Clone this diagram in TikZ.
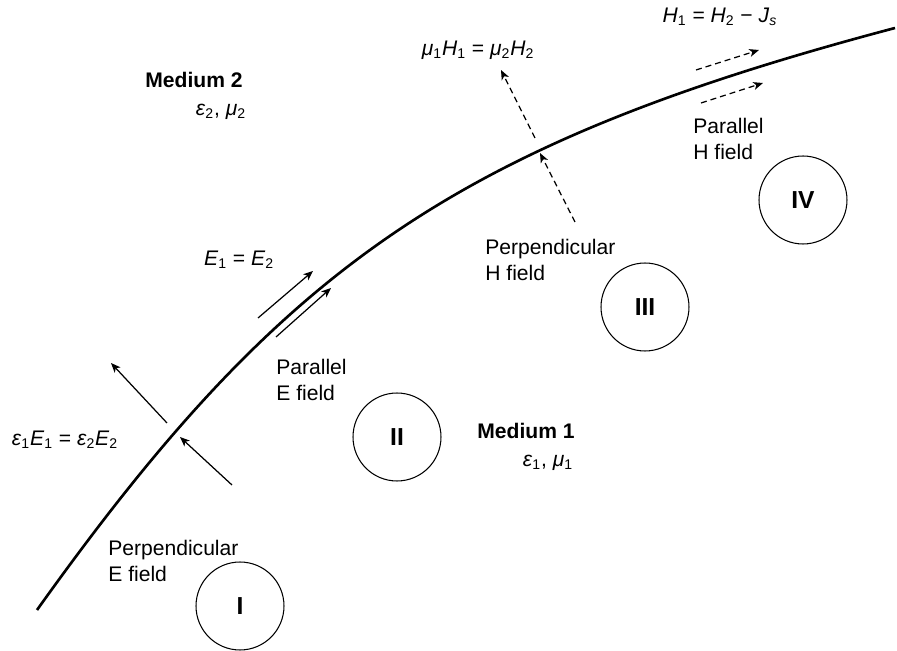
\documentclass[tikz,border=0pt]{standalone}
\usepackage{fontspec}
\setmainfont{Liberation Sans}
\usetikzlibrary{arrows.meta}
\newcommand{\fq}[2]{\textit{#1}\textsubscript{#2}}

\begin{document}
\begin{tikzpicture}[x=0.02cm, y=-0.02cm,
        zone/.style={circle, draw, line width=0.6pt, minimum size=1.76cm, inner sep=0pt, font=\fontsize{14}{16}\selectfont\bfseries},
        note/.style={anchor=west, align=left, inner sep=0pt, font=\fontsize{12}{14.7}\selectfont},
        eq/.style={inner sep=0pt, font=\fontsize{12}{14}\selectfont},
        efield/.style={-{Stealth[length=5.5pt, width=4.5pt, inset=1.5pt]}, line width=0.7pt},
        hfield/.style={efield, dash pattern=on 3.4pt off 2.3pt},
        boundary/.style={line width=1.5pt}
    ]
        \useasboundingbox (0,0) rectangle (897,651);

        % interface between the two media
        \coordinate (bs) at (37,610);
        \coordinate (be) at (895,28);
        \draw[boundary] (bs) .. controls (281,268) and (453,145) .. (be);

        \node[zone] (z1) at (240,606) {I};
        \node[zone] (z2) at (397,437) {II};
        \node[zone] (z3) at (645,307) {III};
        \node[zone] (z4) at (803,200) {IV};

        \node[note, font=\fontsize{12}{14.7}\selectfont\bfseries] (m2) at (145,80) {Medium 2};
        \node[eq] (m2p) at (221,112) {\textit{ε}\textsubscript{2}, \textit{μ}\textsubscript{2}};
        \node[note, font=\fontsize{12}{14.7}\selectfont\bfseries] (m1) at (477,431) {Medium 1};
        \node[eq] (m1p) at (548,463) {\textit{ε}\textsubscript{1}, \textit{μ}\textsubscript{1}};

        \node[note] (t1) at (108,561) {Perpendicular\\E field};
        \node[note] (t2) at (276,380) {Parallel\\E field};
        \node[note] (t3) at (485,260) {Perpendicular\\H field};
        \node[note] (t4) at (693,139) {Parallel\\H field};

        \node[eq] (q1) at (65,440) {\fq{ε}{1}\fq{E}{1} = \fq{ε}{2}\fq{E}{2}};
        \node[eq] (q2) at (239,260) {\fq{E}{1} = \fq{E}{2}};
        \node[eq] (q3) at (478,50) {\fq{μ}{1}\fq{H}{1} = \fq{μ}{2}\fq{H}{2}};
        \node[eq] (q4) at (720,17) {\fq{H}{1} = \fq{H}{2} − \fq{J}{\textit{s}}};

        % field vectors
        \coordinate (a1s) at (167,423); \coordinate (a1e) at (111,363);
        \coordinate (a2s) at (232,485); \coordinate (a2e) at (180,437);
        \coordinate (b1s) at (258,318); \coordinate (b1e) at (313,271);
        \coordinate (b2s) at (276,337); \coordinate (b2e) at (331,288);
        \coordinate (c1s) at (535,138); \coordinate (c1e) at (501,70);
        \coordinate (c2s) at (575,222); \coordinate (c2e) at (540,153);
        \coordinate (d1s) at (696,70);  \coordinate (d1e) at (759,50);
        \coordinate (d2s) at (701,103); \coordinate (d2e) at (763,83);

        \draw[efield] (a1s) -- (a1e);
        \draw[efield] (a2s) -- (a2e);
        \draw[efield] (b1s) -- (b1e);
        \draw[efield] (b2s) -- (b2e);
        \draw[hfield] (c1s) -- (c1e);
        \draw[hfield] (c2s) -- (c2e);
        \draw[hfield] (d1s) -- (d1e);
        \draw[hfield] (d2s) -- (d2e);
    \end{tikzpicture}
\end{document}
